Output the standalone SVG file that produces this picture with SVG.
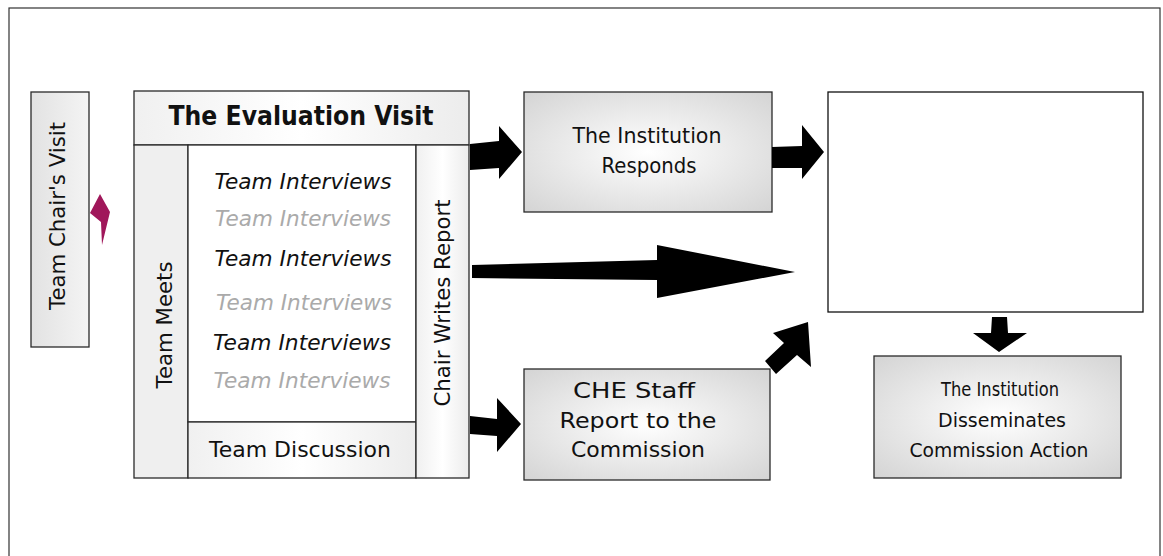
<svg xmlns="http://www.w3.org/2000/svg" width="1163" height="556" viewBox="0 0 1163 556">
<style>
text{font-family:"DejaVu Sans","Liberation Sans",sans-serif;fill:#111}
.box{stroke:#2a2a2a;stroke-width:1.3}
.lbl{font-size:21px;text-anchor:middle}
.big{font-size:22px;text-anchor:middle}
.sm{font-size:19.5px;text-anchor:middle}
.int{font-size:21px;font-style:italic;text-anchor:middle;fill:#111}
.gry{fill:#aaaaaa}
.arr{fill:#000}
</style>
<defs>
<radialGradient id="rg" cx="0.5" cy="0.5" r="0.7">
<stop offset="0" stop-color="#ffffff"/>
<stop offset="1" stop-color="#d4d4d4"/>
</radialGradient>
<linearGradient id="lgv" x1="0" y1="0" x2="1" y2="0">
<stop offset="0" stop-color="#e2e2e2"/>
<stop offset="1" stop-color="#f4f4f4"/>
</linearGradient>
<linearGradient id="lgh" x1="0" y1="0" x2="1" y2="0">
<stop offset="0" stop-color="#f0f0f0"/>
<stop offset="0.5" stop-color="#ffffff"/>
<stop offset="1" stop-color="#ececec"/>
</linearGradient>
</defs>
<rect id="frame" x="9" y="8" width="1151" height="570" fill="#fff" stroke="#333" stroke-width="1.2"/>

<g id="chair-visit">
<rect class="box" x="31" y="92" width="58" height="255" fill="url(#lgv)"/>
<text class="big" transform="translate(65,216) rotate(-90)" textLength="188" lengthAdjust="spacingAndGlyphs">Team Chair's Visit</text>
</g>

<g id="evaluation-visit">
<rect class="box" x="134" y="91" width="335" height="54" fill="url(#lgh)"/>
<text x="301" y="125" font-size="26" font-weight="bold" text-anchor="middle" textLength="265" lengthAdjust="spacingAndGlyphs">The Evaluation Visit</text>
</g>

<g id="team-meets">
<rect class="box" x="134" y="145" width="54" height="333" fill="#efefef"/>
<text class="big" transform="translate(172,325) rotate(-90)" textLength="127" lengthAdjust="spacingAndGlyphs">Team Meets</text>
</g>

<g id="interviews">
<rect class="box" x="188" y="145" width="228" height="277" fill="#fff"/>
<text class="int" x="303" y="189" textLength="177" lengthAdjust="spacingAndGlyphs">Team Interviews</text>
<text class="int gry" x="303" y="226" textLength="176" lengthAdjust="spacingAndGlyphs">Team Interviews</text>
<text class="int" x="303" y="266" textLength="177" lengthAdjust="spacingAndGlyphs">Team Interviews</text>
<text class="int gry" x="304" y="310" textLength="176" lengthAdjust="spacingAndGlyphs">Team Interviews</text>
<text class="int" x="302" y="350" textLength="178" lengthAdjust="spacingAndGlyphs">Team Interviews</text>
<text class="int gry" x="302" y="388" textLength="177" lengthAdjust="spacingAndGlyphs">Team Interviews</text>
</g>

<g id="team-discussion">
<rect class="box" x="188" y="422" width="228" height="56" fill="url(#lgh)"/>
<text class="lbl" x="300" y="457" textLength="182" lengthAdjust="spacingAndGlyphs">Team Discussion</text>
</g>

<g id="chair-writes">
<rect class="box" x="416" y="145" width="53" height="333" fill="url(#lgh)"/>
<text class="lbl" transform="translate(450,303) rotate(-90)" textLength="207" lengthAdjust="spacingAndGlyphs">Chair Writes Report</text>
</g>

<g id="institution-responds">
<rect class="box" x="524" y="92" width="248" height="120" fill="url(#rg)"/>
<text class="lbl" x="647" y="143" textLength="149" lengthAdjust="spacingAndGlyphs">The Institution</text>
<text class="lbl" x="649" y="173" textLength="95" lengthAdjust="spacingAndGlyphs">Responds</text>
</g>

<g id="commission">
<rect x="828" y="92" width="315" height="220" fill="#fff" stroke="#111" stroke-width="1.3"/>
</g>

<g id="che-staff">
<rect class="box" x="524" y="369" width="246" height="111" fill="url(#rg)"/>
<text class="big" x="634" y="398" textLength="122" lengthAdjust="spacingAndGlyphs">CHE Staff</text>
<text class="big" x="638" y="428" textLength="157" lengthAdjust="spacingAndGlyphs">Report to the</text>
<text class="big" x="638" y="457" textLength="134" lengthAdjust="spacingAndGlyphs">Commission</text>
</g>

<g id="disseminates">
<rect class="box" x="874" y="356" width="247" height="122" fill="url(#rg)"/>
<text class="sm" x="1000" y="396" textLength="118" lengthAdjust="spacingAndGlyphs">The Institution</text>
<text class="sm" x="1002" y="427" textLength="128" lengthAdjust="spacingAndGlyphs">Disseminates</text>
<text class="sm" x="999" y="457" textLength="179" lengthAdjust="spacingAndGlyphs">Commission Action</text>
</g>

<g id="connectors">
<polygon fill="#a0175a" points="90,213 100,194 110,212 102,245 101,222"/>
<polygon class="arr" points="470,144 499,141 499,126 522,152 499,179 499,168 470,170"/>
<polygon class="arr" points="772,147 802,146 802,125 824,152 802,179 802,168 772,168"/>
<polygon class="arr" points="472,265 657,260 657,245 795,272 657,298 657,280 472,278"/>
<polygon class="arr" points="470,416 497,419 497,398 521,424 497,452 497,436 470,434"/>
<polygon class="arr" points="765,361 784,343 773,333 808,322 811,367 797,355 776,374"/>
<polygon class="arr" points="992,317 1007,317 1008,333 1027,333 999,352 973,333 991,333"/>
</g>
</svg>
